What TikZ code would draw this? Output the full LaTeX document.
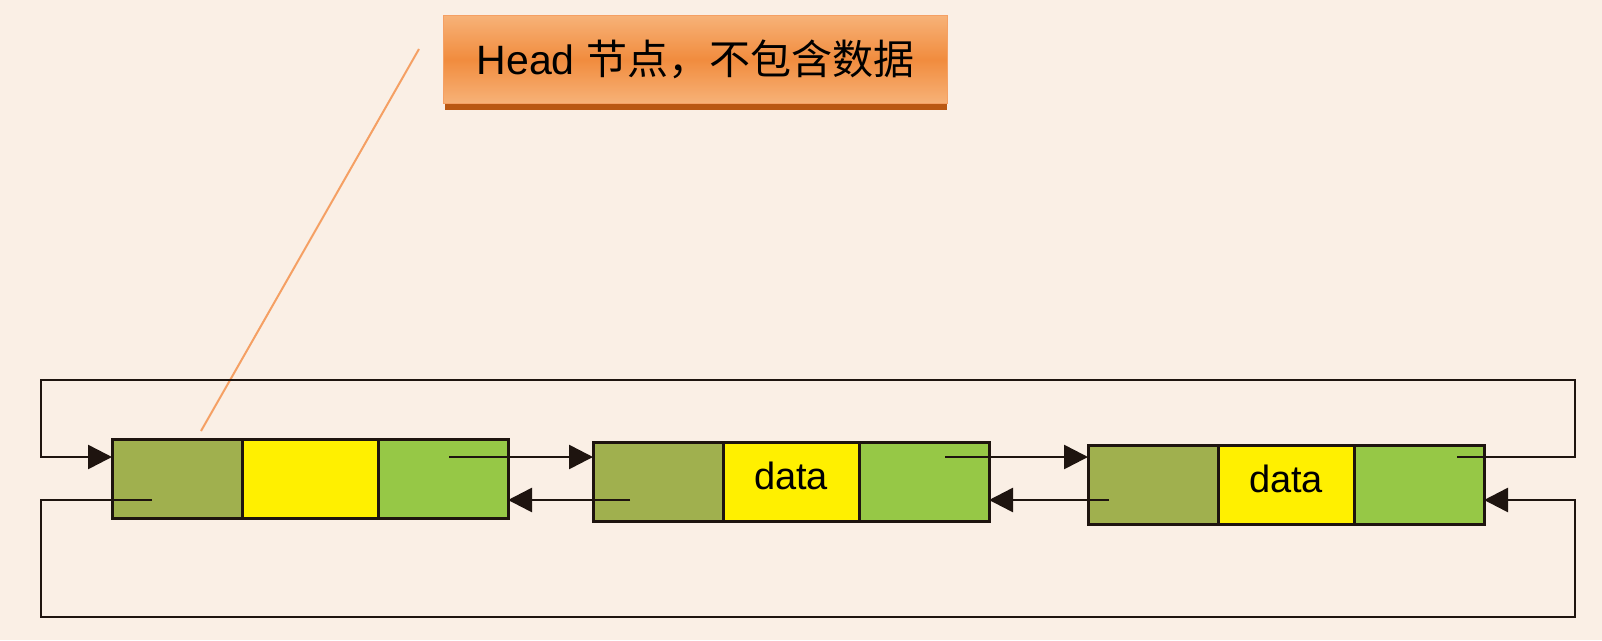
\documentclass[tikz,border=0pt]{standalone}
\usepackage{fontspec}
\setmainfont{Liberation Sans}
\newfontfamily\cjk{Noto Sans CJK SC}
\usetikzlibrary{positioning,arrows.meta}

\definecolor{paper}{RGB}{250,239,229}
\definecolor{prevgreen}{RGB}{160,176,78}
\definecolor{datayellow}{RGB}{255,240,0}
\definecolor{nextgreen}{RGB}{150,200,70}
\definecolor{wire}{RGB}{30,20,15}
\definecolor{calloutlight}{RGB}{247,178,120}
\definecolor{calloutmid}{RGB}{241,140,62}
\definecolor{calloutshadow}{RGB}{186,88,18}
\definecolor{leadercol}{RGB}{245,160,100}

\tikzset{
    cell/.style={draw=wire, line width=3pt, minimum height=79pt, inner sep=0pt, outer sep=0pt},
    prevcell/.style={cell, fill=prevgreen, minimum width=130pt},
    datacell/.style={cell, fill=datayellow, minimum width=136pt, text depth=12pt, font=\fontsize{38}{38}\selectfont},
    nextcell/.style={cell, fill=nextgreen, minimum width=130pt},
    link/.style={draw=wire, line width=2.6pt, -{Triangle[length=24pt,width=24pt]}},
}

\begin{document}
\begin{tikzpicture}[x=1pt,y=-1pt]
    \fill [paper] (0,0) rectangle (1602,640);
    \useasboundingbox (0,0) rectangle (1602,640);

    \fill [calloutshadow] (445,100) rectangle (947,110);
    \node [draw=leadercol, line width=1pt, top color=calloutlight, bottom color=calloutlight, middle color=calloutmid,
        minimum width=504pt, minimum height=88pt, anchor=north west, font=\fontsize{41}{41}\selectfont]
        (callout) at (443,15) {Head {\cjk 节点，不包含数据}};
    \coordinate (leadtop) at (419,49);
    \coordinate (leadend) at (201,431);
    \draw [leadercol, line width=2pt] (leadtop) -- (leadend);

    \node [prevcell, anchor=north west] (prev1) at (112,439) {};
    \node [datacell, right=0pt of prev1] (data1) {};
    \node [nextcell, right=0pt of data1] (next1) {};

    \node [prevcell, anchor=north west] (prev2) at (593,442) {};
    \node [datacell, right=0pt of prev2] (data2) {data};
    \node [nextcell, right=0pt of data2] (next2) {};

    \node [prevcell, anchor=north west] (prev3) at (1088,445) {};
    \node [datacell, right=0pt of prev3] (data3) {data};
    \node [nextcell, right=0pt of data3] (next3) {};

    \coordinate (fwd1) at (449,457);
    \coordinate (back1) at (152,500);
    \coordinate (fwd2) at (945,457);
    \coordinate (back2) at (630,500);
    \coordinate (fwd3) at (1457,457);
    \coordinate (back3) at (1109,500);

    \draw [link] (fwd1) -- (fwd1 -| prev2.west);
    \draw [link] (back2) -- (back2 -| next1.east);
    \draw [link] (fwd2) -- (fwd2 -| prev3.west);
    \draw [link] (back3) -- (back3 -| next2.east);

    \draw [link] (fwd3) -- (1575,457) |- (41,380) |- (fwd3 -| prev1.west);
    \draw [link] (back1) -- (41,500) |- (1575,617) |- (back1 -| next3.east);
\end{tikzpicture}
\end{document}
